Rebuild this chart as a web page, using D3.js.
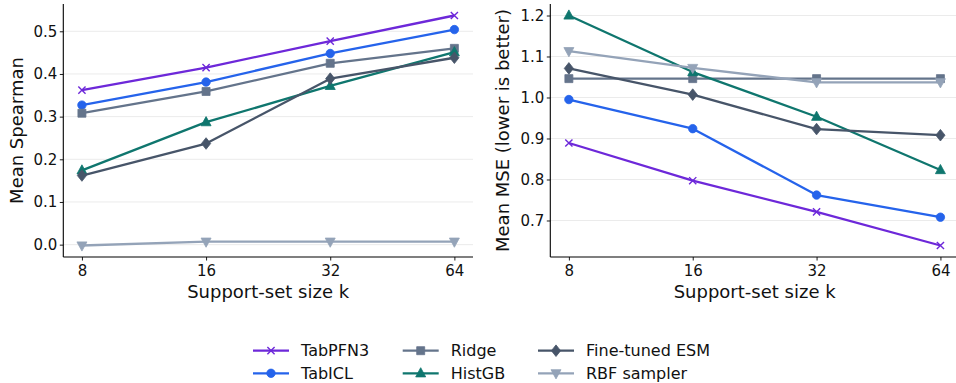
<!DOCTYPE html>
<html>
<head>
<meta charset="utf-8">
<script src="https://cdn.jsdelivr.net/npm/d3@7"></script>
<style>
  body { margin: 0; background: #fff; }
  svg { display: block; font-family: 'DejaVu Sans', sans-serif; }
</style>
</head>
<body>
<div id="chart"></div>
<script>
// data
var kValues = [8, 16, 32, 64];
var seriesNames = ['TabPFN3', 'TabICL', 'Ridge', 'HistGB', 'Fine-tuned ESM', 'RBF sampler'];

var spearmanTabPFN3 = [0.362, 0.415, 0.477, 0.537];
var spearmanTabICL = [0.327, 0.381, 0.448, 0.504];
var spearmanRidge = [0.308, 0.359, 0.425, 0.460];
var spearmanHistGB = [0.174, 0.287, 0.372, 0.451];
var spearmanESM = [0.162, 0.237, 0.389, 0.438];
var spearmanRBF = [-0.002, 0.007, 0.007, 0.007];

var mseTabPFN3 = [0.889, 0.797, 0.721, 0.639];
var mseTabICL = [0.995, 0.924, 0.762, 0.708];
var mseRidge = [1.046, 1.046, 1.046, 1.046];
var mseHistGB = [1.200, 1.062, 0.953, 0.823];
var mseESM = [1.071, 1.007, 0.923, 0.908];
var mseRBF = [1.113, 1.072, 1.037, 1.037];

var spearmanTicks = [0.0, 0.1, 0.2, 0.3, 0.4, 0.5];
var mseTicks = [0.7, 0.8, 0.9, 1.0, 1.1, 1.2];

var colors = ['#6d28d9', '#2563eb', '#64748b', '#0f766e', '#475569', '#94a3b8'];
var markers = ['x', 'circle', 'square', 'triangle', 'diamond', 'triangledown'];

var w = 956;
var h = 383;
var svg = d3.select('#chart').append('svg').attr('width', w).attr('height', h);

function markerPath(type) {
  if (type == 'circle') return d3.symbol(d3.symbolCircle, 56)();
  if (type == 'square') return d3.symbol(d3.symbolSquare, 64)();
  if (type == 'diamond') return 'M0,-5.8L4.6,0L0,5.8L-4.6,0Z';
  if (type == 'triangle') return 'M0,-5.6L5,3.6L-5,3.6Z';
  if (type == 'triangledown') return 'M0,5.6L5,-3.6L-5,-3.6Z';
  return 'M-3.6,-3.6L3.6,3.6M-3.6,3.6L3.6,-3.6';
}

function drawMarker(g, type, color, x, y) {
  var p = g.append('path')
    .attr('d', markerPath(type))
    .attr('transform', 'translate(' + x + ',' + y + ')');
  if (type == 'x') {
    p.attr('fill', 'none').attr('stroke', color).attr('stroke-width', 1.4);
  } else {
    p.attr('fill', color).attr('stroke', color).attr('stroke-width', 0.8);
  }
}

function drawPanel(left, right, top, bottom, data, yTicks, yLabel, labelX) {
  var g = svg.append('g');

  var all = d3.merge(data);
  var yMin = d3.min(all), yMax = d3.max(all);
  var yPad = (yMax - yMin) * 0.05;

  var x = d3.scaleLog().base(2).domain([8, 64]);
  var xPad = (right - left) / 1.1 * 0.05;
  x.range([left + xPad, right - xPad]);
  var y = d3.scaleLinear().domain([yMin - yPad, yMax + yPad]).range([bottom, top]);

  // gridlines
  g.selectAll('.grid')
    .data(yTicks)
    .enter()
    .append('line')
    .attr('x1', left)
    .attr('x2', right)
    .attr('y1', function (d) { return y(d); })
    .attr('y2', function (d) { return y(d); })
    .attr('stroke', '#ebebeb')
    .attr('stroke-width', 1);

  // axes
  var xAxis = g.append('g')
    .attr('transform', 'translate(0,' + bottom + ')')
    .call(d3.axisBottom(x).tickValues(kValues).tickFormat(d3.format('d')).tickSize(3.5).tickSizeOuter(0));
  var yAxis = g.append('g')
    .attr('transform', 'translate(' + left + ',0)')
    .call(d3.axisLeft(y).tickValues(yTicks).tickFormat(d3.format('.1f')).tickSize(3.5).tickSizeOuter(0));

  xAxis.select('.domain').attr('d', 'M' + left + ',0H' + right);
  yAxis.select('.domain').attr('d', 'M0,' + top + 'V' + bottom);
  [xAxis, yAxis].forEach(function (a) {
    a.selectAll('.domain').attr('stroke', '#000').attr('stroke-width', 1.1);
    a.selectAll('.tick line').attr('stroke', '#000').attr('stroke-width', 0.9);
    a.selectAll('.tick text')
      .attr('font-family', 'DejaVu Sans')
      .attr('font-size', '15px')
      .attr('fill', '#111');
  });
  xAxis.selectAll('.tick text').attr('dy', '0.95em').attr('y', 5);
  yAxis.selectAll('.tick text').attr('x', -6);

  // lines + markers
  var line = d3.line()
    .x(function (d, i) { return x(kValues[i]); })
    .y(function (d) { return y(d); });

  data.forEach(function (vals, s) {
    g.append('path')
      .attr('d', line(vals))
      .attr('fill', 'none')
      .attr('stroke', colors[s])
      .attr('stroke-width', 2.3)
      .attr('stroke-linejoin', 'round');
    vals.forEach(function (v, i) {
      drawMarker(g, markers[s], colors[s], x(kValues[i]), y(v));
    });
  });

  // axis labels
  g.append('text')
    .text('Support-set size k')
    .attr('x', (left + right) / 2)
    .attr('y', 298)
    .attr('text-anchor', 'middle')
    .attr('font-size', '18px')
    .attr('fill', '#111');
  g.append('text')
    .text(yLabel)
    .attr('transform', 'translate(' + labelX + ',' + ((top + bottom) / 2) + ') rotate(-90)')
    .attr('text-anchor', 'middle')
    .attr('dy', '0.35em')
    .attr('font-size', '18px')
    .attr('fill', '#111');
}

drawPanel(63.3, 473, 4, 257,
  [spearmanTabPFN3, spearmanTabICL, spearmanRidge, spearmanHistGB, spearmanESM, spearmanRBF],
  spearmanTicks, 'Mean Spearman', 17);

drawPanel(550.3, 959, 4, 257,
  [mseTabPFN3, mseTabICL, mseRidge, mseHistGB, mseESM, mseRBF],
  mseTicks, 'Mean MSE (lower is better)', 503);

// legend, 3 columns x 2 rows (column-major)
var legendCols = [253, 402.7, 538];
var legendRows = [350.7, 373.3];
var legend = svg.append('g');
seriesNames.forEach(function (name, s) {
  var lx = legendCols[Math.floor(s / 2)];
  var ly = legendRows[s % 2];
  legend.append('line')
    .attr('x1', lx).attr('x2', lx + 36)
    .attr('y1', ly).attr('y2', ly)
    .attr('stroke', colors[s])
    .attr('stroke-width', 2.3);
  drawMarker(legend, markers[s], colors[s], lx + 18, ly);
  legend.append('text')
    .text(name)
    .attr('x', lx + 48)
    .attr('y', ly)
    .attr('dy', '0.36em')
    .attr('font-size', '16px')
    .attr('fill', '#111');
});
</script>
</body>
</html>
